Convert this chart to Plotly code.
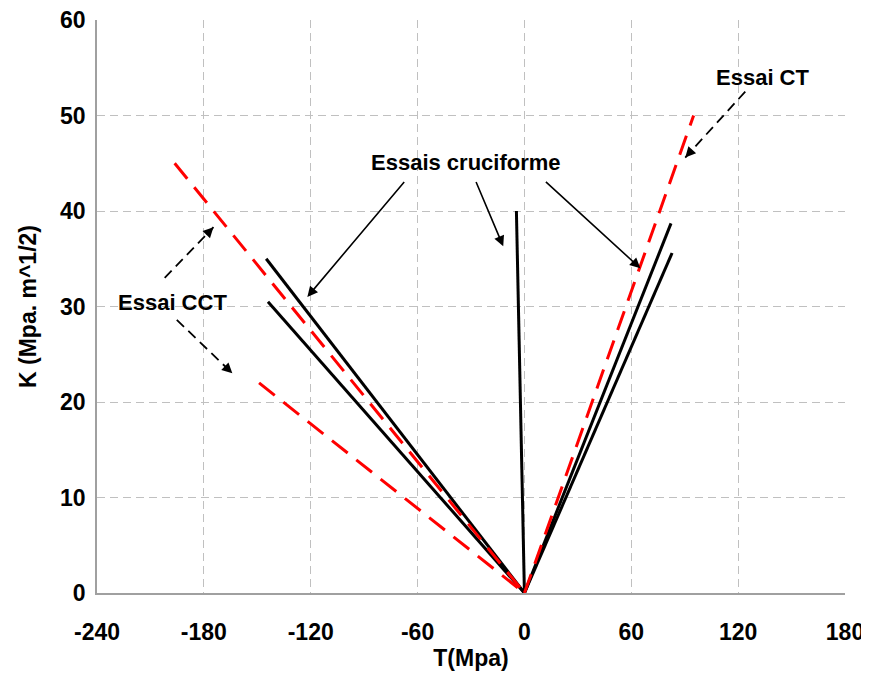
import plotly.graph_objects as go

# ── Data (T in MPa, K in MPa.m^1/2) ───────────────────────────────────────────
CRUCI_T = [[0, -145], [0, -144], [0, -4.5], [0, 82.3], [0, 82.9]]
CRUCI_K = [[0, 35.0], [0, 30.5], [0, 40.0], [0, 38.7], [0, 35.6]]

CCT_T = [[-196.4, 0], [-149, 0]]
CCT_K = [[45.0, 0], [22.0, 0]]

CT_T = [0, 95]
CT_K = [0, 50]

X_TICKS = [-240, -180, -120, -60, 0, 60, 120, 180]
Y_TICKS = [0, 10, 20, 30, 40, 50, 60]

FONT = "Liberation Sans"

# pixel scale of the axes, used only to orient the short arrowheads
PX_X = 748 / 420
PX_Y = 573 / 60

fig = go.Figure()

for t, k in zip(CRUCI_T, CRUCI_K):
    fig.add_trace(go.Scatter(x=t, y=k, mode="lines",
                             line=dict(color="black", width=3), showlegend=False))

for t, k in zip(CCT_T, CCT_K):
    fig.add_trace(go.Scatter(x=t, y=k, mode="lines",
                             line=dict(color="#ff0000", width=3, dash="20px,11px"),
                             showlegend=False))

fig.add_trace(go.Scatter(x=CT_T, y=CT_K, mode="lines",
                         line=dict(color="#ff0000", width=3, dash="20px,11px"),
                         showlegend=False))

# ── Annotations ──────────────────────────────────────────────────────────────
txt_font = dict(family=FONT, size=22, color="black", weight="bold")

fig.add_annotation(x=-33, y=45.1, text="Essais cruciforme", showarrow=False, font=txt_font)
fig.add_annotation(x=133.5, y=54.0, text="Essai CT", showarrow=False, font=txt_font)
fig.add_annotation(x=-197.5, y=30.4, text="Essai CCT", showarrow=False, font=txt_font)

# solid arrows (tail -> head)
solid = [((-66.8, 43.2), (-121.9, 31.0)),
         ((-27.5, 43.2), (-11.9, 36.3)),
         ((11.2, 43.2), (65.1, 34.0))]
for (tx, ty), (hx, hy) in solid:
    fig.add_annotation(x=hx, y=hy, ax=tx, ay=ty, axref="x", ayref="y",
                       text="", showarrow=True, arrowhead=2, arrowsize=1.3,
                       arrowwidth=1.6, arrowcolor="black")

# dashed arrows: dashed shaft + short arrowhead
dashed = [((124.0, 52.5), (90.3, 45.6)),
          ((-202.0, 33.0), (-174.6, 38.3)),
          ((-195.2, 28.6), (-164.0, 23.0))]
for (tx, ty), (hx, hy) in dashed:
    fig.add_shape(type="line", x0=tx, y0=ty, x1=hx, y1=hy,
                  line=dict(color="black", width=1.8, dash="10px,6px"))
    dx = (tx - hx) * PX_X
    dy = -(ty - hy) * PX_Y
    n = (dx ** 2 + dy ** 2) ** 0.5
    fig.add_annotation(x=hx, y=hy, ax=dx / n * 12, ay=dy / n * 12,
                       text="", showarrow=True, arrowhead=2, arrowsize=1.3,
                       arrowwidth=1.6, arrowcolor="black")

bold = dict(family=FONT, size=23, color="black", weight="bold")
axis_common = dict(
    showgrid=True, gridcolor="#c0c0c0", griddash="8px,5px", gridwidth=1,
    showline=True, linecolor="#a0a0a0", linewidth=1.5,
    zeroline=False, ticks="", automargin=False,
    ticklabeloverflow="allow", tickfont=bold,
)

fig.update_xaxes(range=[-240, 180], tickvals=X_TICKS,
                 ticktext=[str(v) for v in X_TICKS], ticklabelstandoff=18,
                 title=dict(text="T(Mpa)", standoff=4, font=bold),
                 **axis_common)
fig.update_yaxes(range=[0, 60], tickvals=Y_TICKS,
                 ticktext=[str(v) for v in Y_TICKS], ticklabelstandoff=5,
                 title=dict(text="K (Mpa. m^1/2)", standoff=17, font=bold),
                 **axis_common)

# page body adds an 8px offset, so the figure is 861x667 inside the window
fig.update_layout(
    width=861, height=667,
    margin=dict(l=89, r=24, t=12, b=82),
    plot_bgcolor="white", paper_bgcolor="white",
    showlegend=False,
)

fig.write_html("out.html")
